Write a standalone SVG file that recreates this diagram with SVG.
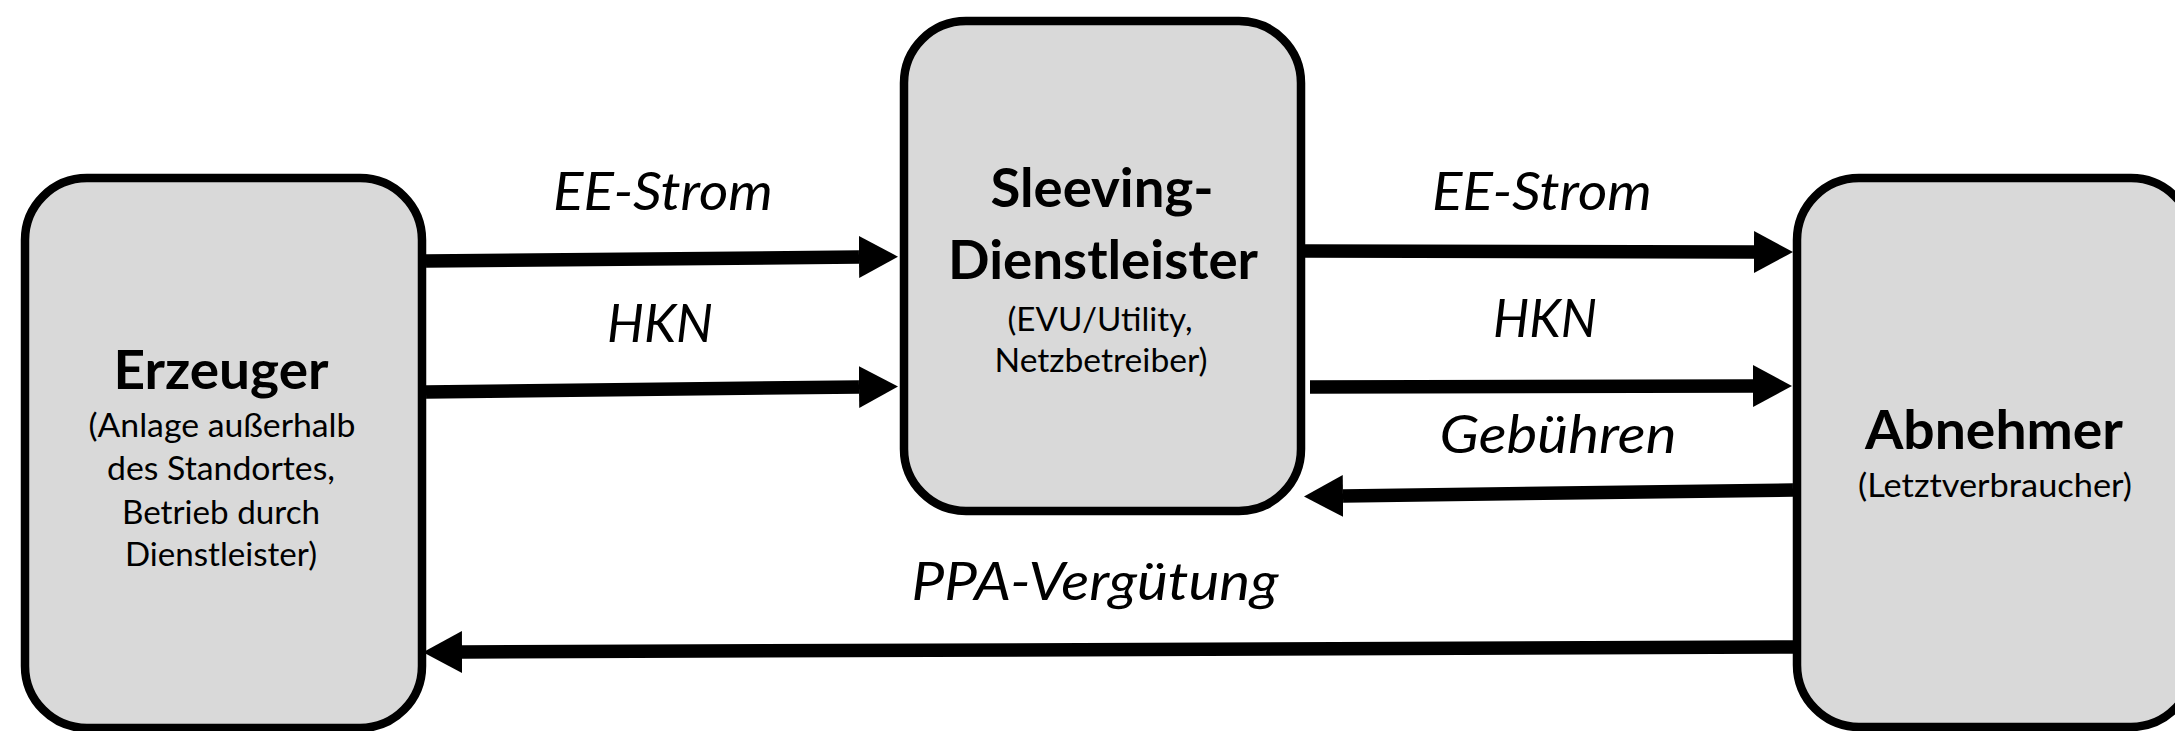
<svg xmlns="http://www.w3.org/2000/svg" width="2175" height="731" viewBox="0 0 2175 731">
<style>
.box{fill:#d9d9d9;stroke:#000;stroke-width:8.5}
.conn{stroke:#000;stroke-width:13.5;fill:none;marker-end:url(#ah)}
.t{font-family:Lato,"Open Sans","Liberation Sans",sans-serif;fill:#000;text-anchor:middle}
.title{font-weight:bold;font-size:53px}
.sub{font-size:32px}
.lab{font-style:italic;font-size:52px}
</style>
<defs>
<marker id="ah" markerUnits="userSpaceOnUse" viewBox="0 0 39 42" refX="0" refY="21" markerWidth="39" markerHeight="42" orient="auto">
<path d="M0,0 L39,21 L0,42 Z" fill="#000"/>
</marker>
</defs>
<rect width="2175" height="731" fill="#fff"/>
<g id="connectors">
<path class="conn" d="M426,261 L859,257"/>
<path class="conn" d="M426,392 L859,387"/>
<path class="conn" d="M1305,251 L1754,252"/>
<path class="conn" d="M1310,387 L1753,386"/>
<path class="conn" d="M1793,490 L1343,496"/>
<path class="conn" d="M1795,647 L462,652"/>
<text class="t lab" x="663" y="210" textLength="220" lengthAdjust="spacingAndGlyphs">EE-Strom</text>
<text class="t lab" x="660" y="342" textLength="106" lengthAdjust="spacingAndGlyphs">HKN</text>
<text class="t lab" x="1542" y="210" textLength="220" lengthAdjust="spacingAndGlyphs">EE-Strom</text>
<text class="t lab" x="1545" y="337" textLength="104" lengthAdjust="spacingAndGlyphs">HKN</text>
<text class="t lab" x="1558" y="453" textLength="237" lengthAdjust="spacingAndGlyphs">Gebühren</text>
<text class="t lab" x="1095" y="600" textLength="367" lengthAdjust="spacingAndGlyphs">PPA-Vergütung</text>
</g>
<g id="erzeuger">
<rect class="box" x="25" y="178" width="397" height="550" rx="62" ry="62"/>
<text class="t title" x="221" y="389" textLength="215" lengthAdjust="spacingAndGlyphs">Erzeuger</text>
<text class="t sub" x="222" y="437" textLength="267" lengthAdjust="spacingAndGlyphs">(Anlage außerhalb</text>
<text class="t sub" x="221" y="480" textLength="228" lengthAdjust="spacingAndGlyphs">des Standortes,</text>
<text class="t sub" x="221" y="524" textLength="198" lengthAdjust="spacingAndGlyphs">Betrieb durch</text>
<text class="t sub" x="221" y="566" textLength="192" lengthAdjust="spacingAndGlyphs">Dienstleister)</text>
</g>
<g id="sleeving">
<rect class="box" x="904" y="21" width="397" height="490" rx="62" ry="62"/>
<text class="t title" x="1102" y="207" textLength="223" lengthAdjust="spacingAndGlyphs">Sleeving-</text>
<text class="t title" x="1103" y="279" textLength="310" lengthAdjust="spacingAndGlyphs">Dienstleister</text>
<text class="t sub" x="1100" y="331" textLength="185" lengthAdjust="spacingAndGlyphs">(EVU/Utility,</text>
<text class="t sub" x="1101" y="372" textLength="213" lengthAdjust="spacingAndGlyphs">Netzbetreiber)</text>
</g>
<g id="abnehmer">
<rect class="box" x="1797" y="178" width="396" height="549" rx="62" ry="62"/>
<text class="t title" x="1994" y="449" textLength="258" lengthAdjust="spacingAndGlyphs">Abnehmer</text>
<text class="t sub" x="1995" y="497" textLength="274" lengthAdjust="spacingAndGlyphs">(Letztverbraucher)</text>
</g>
</svg>
